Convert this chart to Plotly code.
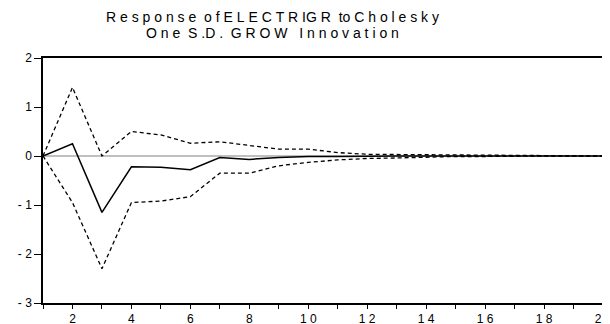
import plotly.graph_objects as go

periods = list(range(1, 21))
response = [0.0, 0.25, -1.15, -0.22, -0.23, -0.28, -0.03, -0.07, -0.03, -0.01,
            -0.01, 0.0, 0.0, 0.0, 0.0, 0.0, 0.0, 0.0, 0.0, 0.0]
upper = [0.0, 1.40, 0.0, 0.50, 0.43, 0.26, 0.29, 0.22, 0.14, 0.14,
         0.07, 0.035, 0.03, 0.025, 0.02, 0.01, 0.01, 0.0, 0.0, 0.0]
lower = [0.0, -0.95, -2.30, -0.95, -0.92, -0.83, -0.35, -0.35, -0.20, -0.13,
         -0.08, -0.05, -0.04, -0.02, -0.01, -0.01, 0.0, 0.0, 0.0, 0.0]

NB = "\u00a0"
x_tickvals = periods
x_ticktext = ["" if p % 2 else NB.join(str(p)) for p in periods]
y_tickvals = [2, 1, 0, -1, -2, -3]
y_ticktext = ["2", "1", "0", "-" + NB + "1", "-" + NB + "2", "-" + NB + "3"]
title_lines = ["R e s p o n s e  o f E L E C T R IG R  to C h o l e s k y",
               "O n e  S .D .  G R O W   I n n o v a t i o n"]

fig = go.Figure()
fig.add_trace(go.Scatter(x=[1, 20], y=[0, 0], mode="lines",
                         line=dict(color="#808080", width=1), hoverinfo="skip"))
fig.add_trace(go.Scatter(x=periods, y=upper, mode="lines",
                         line=dict(color="black", width=1.3, dash="4px,3px")))
fig.add_trace(go.Scatter(x=periods, y=lower, mode="lines",
                         line=dict(color="black", width=1.3, dash="4px,3px")))
fig.add_trace(go.Scatter(x=periods, y=response, mode="lines",
                         line=dict(color="black", width=1.5)))

for text, ypos in zip(title_lines, [1.1673, 1.102]):
    fig.add_annotation(text=text.replace(" ", NB), xref="paper", yref="paper",
                       x=0.4107, y=ypos, xanchor="center", yanchor="middle",
                       showarrow=False, font=dict(size=14, color="black"))

fig.update_layout(
    width=610, height=324,
    margin=dict(l=35, r=15, t=50, b=29, autoexpand=False),
    paper_bgcolor="white", plot_bgcolor="white",
    showlegend=False,
    font=dict(family="Liberation Sans, Arial, sans-serif", size=12, color="black"),
)
fig.update_xaxes(range=[1, 20], tickvals=x_tickvals, ticktext=x_ticktext,
                 ticks="outside", ticklen=4, tickcolor="black", tickwidth=1,
                 showgrid=False, zeroline=False, showline=True, linecolor="black",
                 linewidth=1.5, mirror=True, tickfont=dict(size=12), automargin=False)
fig.update_yaxes(range=[-3, 2], tickvals=y_tickvals, ticktext=y_ticktext,
                 ticks="outside", ticklen=7, tickcolor="black", tickwidth=1,
                 showgrid=False, zeroline=False, showline=True, linecolor="black",
                 linewidth=1.5, mirror=True, tickfont=dict(size=12), automargin=False)

fig.write_html("out.html")
